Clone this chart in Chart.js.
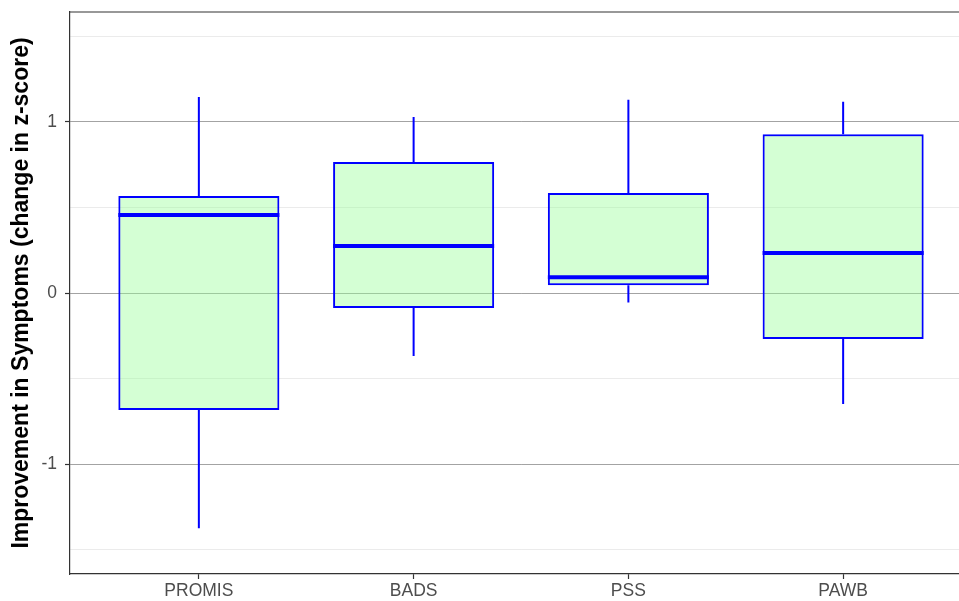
<!DOCTYPE html>
<html>
<head>
<meta charset="utf-8">
<script src="https://cdn.jsdelivr.net/npm/chart.js@4"></script>
<style>
  html, body { margin: 0; padding: 0; background: #fff; overflow: hidden; }
  #wrap { width: 980px; height: 601px; }
</style>
</head>
<body>
<div id="wrap"><canvas id="boxChart" width="980" height="601"></canvas></div>
<script>
// ================= DATA =================
const categories = ["PROMIS", "BADS", "PSS", "PAWB"];
const whiskerLow  = [-1.374, -0.368, -0.055, -0.649];
const quart1      = [-0.684, -0.088,  0.046, -0.269];
const medians     = [ 0.456,  0.275,  0.092,  0.234];
const quart3      = [ 0.567,  0.766,  0.585,  0.928];
const whiskerHigh = [ 1.146,  1.029,  1.129,  1.117];
const yTicks = [-1.5, -1, -0.5, 0, 0.5, 1, 1.5];

const BLUE = "#0000ff";
const FONT = "'Liberation Sans', Arial, sans-serif";

// whiskers, medians and the top panel border, drawn through the chart scales
const boxExtras = {
  id: "boxExtras",
  afterDatasetsDraw(chart) {
    const ctx = chart.ctx;
    const xs = chart.scales.x, ys = chart.scales.y;
    const half = (xs.getPixelForValue(1.75) - xs.getPixelForValue(1)) / 2;
    ctx.save();
    ctx.strokeStyle = BLUE;
    ctx.lineCap = "butt";
    categories.forEach((c, i) => {
      const x = xs.getPixelForValue(i + 1);
      ctx.lineWidth = 2;
      ctx.beginPath();
      ctx.moveTo(x, ys.getPixelForValue(quart3[i]));
      ctx.lineTo(x, ys.getPixelForValue(whiskerHigh[i]));
      ctx.moveTo(x, ys.getPixelForValue(quart1[i]));
      ctx.lineTo(x, ys.getPixelForValue(whiskerLow[i]));
      ctx.stroke();
      ctx.lineWidth = 4;
      const ym = ys.getPixelForValue(medians[i]);
      ctx.beginPath();
      ctx.moveTo(x - half, ym);
      ctx.lineTo(x + half, ym);
      ctx.stroke();
    });
    const a = chart.chartArea;
    ctx.strokeStyle = "#333333";
    ctx.lineWidth = 1.2;
    ctx.beginPath();
    ctx.moveTo(a.left, a.top);
    ctx.lineTo(a.right, a.top);
    ctx.lineTo(a.right, a.bottom);
    ctx.stroke();
    ctx.restore();
  }
};

new Chart(document.getElementById("boxChart").getContext("2d"), {
  type: "bar",
  data: {
    datasets: [{
      data: categories.map((c, i) => ({ x: i + 1, y: [quart1[i], quart3[i]] })),
      backgroundColor: "rgba(153, 255, 153, 0.42)",
      borderColor: BLUE,
      borderWidth: 2,
      borderSkipped: false,
      categoryPercentage: 1,
      barPercentage: 0.75,
      grouped: false
    }]
  },
  options: {
    responsive: false,
    animation: false,
    layout: { padding: { top: 12, right: 8, left: 0, bottom: 0 } },
    plugins: { legend: { display: false }, tooltip: { enabled: false } },
    scales: {
      x: {
        type: "linear",
        offset: false,
        min: 0.4,
        max: 4.6,
        afterBuildTicks: s => { s.ticks = categories.map((c, i) => ({ value: i + 1 })); },
        afterFit: s => { s.height = 27; s.paddingLeft = 0; s.paddingRight = 0; },
        ticks: {
          callback: v => categories[v - 1],
          color: "#4d4d4d",
          font: { family: FONT, size: 17.5 },
          padding: 2,
          maxRotation: 0
        },
        grid: { offset: false, drawOnChartArea: false, tickLength: 5, tickColor: "#333333", tickWidth: 1.2 },
        border: { color: "#333333", width: 1.2 }
      },
      y: {
        min: -1.642,
        max: 1.642,
        afterBuildTicks: s => { s.ticks = yTicks.map(v => ({ value: v })); },
        afterFit: s => { s.width = 70; s.paddingTop = 0; s.paddingBottom = 0; },
        ticks: {
          callback: v => Number.isInteger(v) ? String(v) : "",
          color: "#4d4d4d",
          font: { family: FONT, size: 17.5 },
          padding: 8
        },
        grid: {
          color: c => Number.isInteger(c.tick.value) ? "#a3a3a3" : "#ebebeb",
          lineWidth: 1,
          tickLength: 5,
          tickColor: c => Number.isInteger(c.tick.value) ? "#333333" : "rgba(0,0,0,0)",
          tickWidth: 1.2
        },
        border: { color: "#333333", width: 1.2 },
        title: {
          display: true,
          text: "Improvement in Symptoms (change in z-score)",
          color: "#000000",
          font: { family: FONT, size: 23, weight: "bold" },
          padding: { top: 8, bottom: 0 }
        }
      }
    }
  },
  plugins: [boxExtras]
});
</script>
</body>
</html>
